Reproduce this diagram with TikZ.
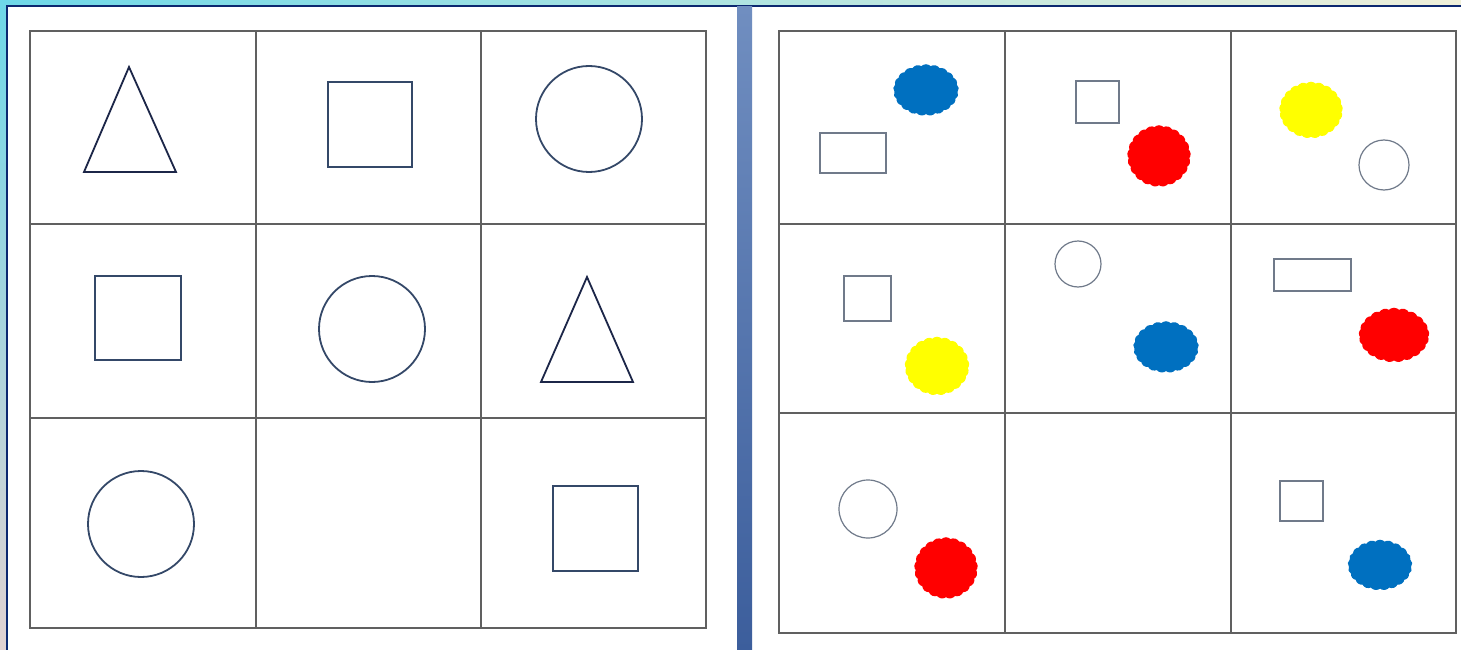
\documentclass[tikz,border=0pt]{standalone}
\usepackage{xcolor}
\usetikzlibrary{shapes.symbols}
\definecolor{shapeline}{RGB}{52,72,104}
\definecolor{trialine}{RGB}{28,38,72}
\definecolor{smallline}{RGB}{112,122,138}
\definecolor{gridgray}{RGB}{96,96,96}
\definecolor{blobblue}{RGB}{0,112,192}
\definecolor{blobred}{RGB}{255,0,0}
\definecolor{blobyellow}{RGB}{255,255,0}
\definecolor{framenavy}{RGB}{12,40,112}
\definecolor{framecyan}{RGB}{110,216,232}
\definecolor{framebeige}{RGB}{240,240,218}
\definecolor{framepink}{RGB}{226,210,210}
\definecolor{barhigh}{RGB}{112,142,192}
\definecolor{barlow}{RGB}{60,94,156}
\tikzset{
  gridline/.style={
    draw=gridgray,
    line width=1.2pt
  },
  bigshape/.style={
    draw=shapeline,
    line width=1.8pt,
    inner sep=0pt
  },
  smallshape/.style={
    draw=smallline,
    line width=1.2pt,
    inner sep=0pt
  },
  blob/.style={
    cloud,
    cloud puffs=21,
    cloud puff arc=95,
    aspect=1.2,
    inner sep=0pt,
    fill=#1,
    draw=#1,
    line width=1.5pt
  }
}

\begin{document}
\begin{tikzpicture}[x=1pt,y=-1pt]
\useasboundingbox (0,0) rectangle (1461,650);

% frame and background
\shade[left color=framecyan, right color=framebeige] (0,0) rectangle (1461,650);
\shade[top color=framecyan, bottom color=framepink] (0,0) rectangle (7,650);
\fill[white] (7,6) rectangle (1461,650);
\draw[framenavy, line width=2pt] (7,650) -- (7,6) -- (1461,6);
\shade[top color=barhigh, bottom color=barlow] (737,7) rectangle (752,650);

% left grid
\draw[gridline] (30,31) rectangle (706,628);
\foreach \x in {256,481} \draw[gridline] (\x,31) -- (\x,628);
\foreach \y in {224,418} \draw[gridline] (30,\y) -- (706,\y);

% right grid
\draw[gridline] (779,31) rectangle (1456,633);
\foreach \x in {1005,1231} \draw[gridline] (\x,31) -- (\x,633);
\foreach \y in {224,413} \draw[gridline] (779,\y) -- (1456,\y);

% left shapes
\draw[bigshape, draw=trialine] (129,67) -- (176,172) -- (84,172) -- cycle;
\node[bigshape, rectangle, minimum width=84, minimum height=85] (sqA) at (370,124.5) {};
\node[bigshape, circle, minimum size=106] (ciA) at (589,119) {};
\node[bigshape, rectangle, minimum width=86, minimum height=84] (sqB) at (138,318) {};
\node[bigshape, circle, minimum size=106] (ciB) at (372,329) {};
\draw[bigshape, draw=trialine] (587,277) -- (633,382) -- (541,382) -- cycle;
\node[bigshape, circle, minimum size=106] (ciC) at (141,524) {};
\node[bigshape, rectangle, minimum width=85, minimum height=85] (sqC) at (595.5,528.5) {};

% right shapes
\node[blob=blobblue, minimum width=64, minimum height=50] (blueA) at (926,90) {};
\node[smallshape, rectangle, minimum width=66, minimum height=40] (reA) at (853,153) {};
\node[smallshape, rectangle, minimum width=43, minimum height=42] (smA) at (1097.5,102) {};
\node[blob=blobred, minimum width=62, minimum height=60] (redA) at (1159,156) {};
\node[blob=blobyellow, minimum width=62, minimum height=55] (yelA) at (1311,110) {};
\node[smallshape, circle, minimum size=50] (scA) at (1384,165) {};
\node[smallshape, rectangle, minimum width=47, minimum height=45] (smB) at (867.5,298.5) {};
\node[blob=blobyellow, minimum width=63, minimum height=57] (yelB) at (937,366) {};
\node[smallshape, circle, minimum size=46] (scB) at (1078,264) {};
\node[blob=blobblue, minimum width=64, minimum height=50] (blueB) at (1166,347) {};
\node[smallshape, rectangle, minimum width=77, minimum height=32] (reB) at (1312.5,275) {};
\node[blob=blobred, minimum width=69, minimum height=53] (redB) at (1394,335) {};
\node[smallshape, circle, minimum size=58] (scC) at (868,509) {};
\node[blob=blobred, minimum width=62, minimum height=60] (redC) at (946,568) {};
\node[smallshape, rectangle, minimum width=43, minimum height=40] (smC) at (1301.5,501) {};
\node[blob=blobblue, minimum width=63, minimum height=49] (blueC) at (1380,565) {};
\end{tikzpicture}
\end{document}
